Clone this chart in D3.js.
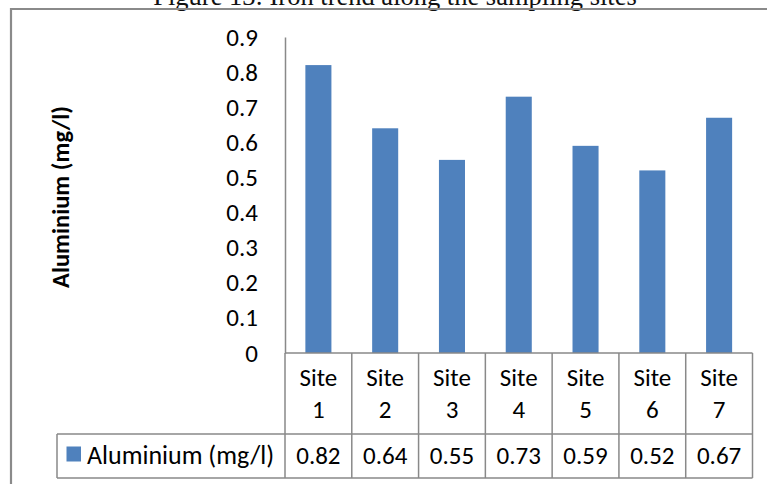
<!DOCTYPE html>
<html>
<head>
<meta charset="utf-8">
<script src="https://cdn.jsdelivr.net/npm/d3@7/dist/d3.min.js"></script>
<style>
  html, body { margin: 0; padding: 0; background: #fff; }
  svg { display: block; }
  .ui { font-family: Carlito, Lato, "Liberation Sans", sans-serif; }
</style>
</head>
<body>
<svg id="chart" width="767" height="484"></svg>
<script>
// Aluminium concentration per sampling site
const sites = ["Site 1", "Site 2", "Site 3", "Site 4", "Site 5", "Site 6", "Site 7"];
const aluminium = [0.82, 0.64, 0.55, 0.73, 0.59, 0.52, 0.67];
const yTicks = [0, 0.1, 0.2, 0.3, 0.4, 0.5, 0.6, 0.7, 0.8, 0.9];
const seriesName = "Aluminium (mg/l)";
const figureTitle = "Figure 13: Iron trend along the sampling sites";

const svg = d3.select("#chart");
const barColor = "#4F81BD";
const lineColor = "#898989";
const fontSize = 25;

// caption above the chart frame (partly cut by the top edge)
svg.append("text")
  .attr("x", 395).attr("y", 5)
  .attr("text-anchor", "middle")
  .attr("font-family", "'Liberation Serif', 'DejaVu Serif', serif")
  .attr("font-size", 26.5)
  .attr("fill", "#111")
  .text(figureTitle);

// chart frame (runs off the right and bottom edges)
svg.append("path")
  .attr("d", "M11,500 V9 H780")
  .attr("fill", "none")
  .attr("stroke", "#8a8a8a")
  .attr("stroke-width", 2.2);

const plot = { left: 285, right: 752.5, top: 37, bottom: 353 };

const x = d3.scaleBand().domain(sites).range([plot.left, plot.right]).padding(0);
const y = d3.scaleLinear().domain([0, 0.9]).range([plot.bottom, plot.top]);

// bars
const barW = x.bandwidth() * 0.39;
svg.append("g").selectAll("rect")
  .data(sites)
  .join("rect")
  .attr("x", d => x(d) + (x.bandwidth() - barW) / 2)
  .attr("y", (d, i) => y(aluminium[i]))
  .attr("width", barW)
  .attr("height", (d, i) => y(0) - y(aluminium[i]))
  .attr("fill", barColor);

// value axis
const yAxis = svg.append("g")
  .attr("transform", `translate(${plot.left},0)`)
  .call(d3.axisLeft(y).tickValues(yTicks).tickSize(0).tickPadding(27).tickFormat(d3.format("~g")));
yAxis.select(".domain").attr("stroke", lineColor).attr("stroke-width", 1.5);
yAxis.selectAll("text")
  .attr("class", "ui")
  .attr("font-size", fontSize)
  .attr("fill", "#000");

// axis title
svg.append("text")
  .attr("class", "ui")
  .attr("transform", "translate(69,197) rotate(-90)")
  .attr("text-anchor", "middle")
  .attr("font-size", 24.5)
  .attr("font-weight", "bold")
  .attr("fill", "#000")
  .text(seriesName);

// data table below the plot
const rowTop = plot.bottom, rowMid = 434, rowBottom = 478, legendLeft = 57;
const table = svg.append("g").attr("stroke", lineColor).attr("stroke-width", 1.5);
table.append("line").attr("x1", plot.left).attr("x2", plot.right).attr("y1", rowTop).attr("y2", rowTop);
table.append("line").attr("x1", legendLeft).attr("x2", plot.right).attr("y1", rowMid).attr("y2", rowMid);
table.append("line").attr("x1", legendLeft).attr("x2", plot.right).attr("y1", rowBottom).attr("y2", rowBottom);
table.append("line").attr("x1", legendLeft).attr("x2", legendLeft).attr("y1", rowMid).attr("y2", rowBottom);
const edges = sites.map(s => x(s)).concat([plot.right]);
table.selectAll("line.col")
  .data(edges)
  .join("line")
  .attr("class", "col")
  .attr("x1", d => d).attr("x2", d => d)
  .attr("y1", rowTop).attr("y2", rowBottom);

// category labels on two lines
const cats = svg.append("g").attr("class", "ui").attr("font-size", fontSize).attr("text-anchor", "middle").attr("fill", "#000");
sites.forEach(s => {
  const parts = s.split(" ");
  const cx = x(s) + x.bandwidth() / 2;
  cats.append("text").attr("x", cx).attr("y", 386).text(parts[0]);
  cats.append("text").attr("x", cx).attr("y", 418).text(parts[1]);
});

// values row
svg.append("g").attr("class", "ui").attr("font-size", fontSize).attr("text-anchor", "middle").attr("fill", "#000")
  .selectAll("text")
  .data(sites)
  .join("text")
  .attr("x", d => x(d) + x.bandwidth() / 2)
  .attr("y", 464)
  .text((d, i) => aluminium[i].toFixed(2));

// legend key in the table
svg.append("rect").attr("x", 66.5).attr("y", 446.5).attr("width", 14.5).attr("height", 15).attr("fill", barColor);
svg.append("text")
  .attr("class", "ui")
  .attr("x", 87).attr("y", 464)
  .attr("font-size", 26)
  .attr("fill", "#000")
  .text(seriesName);
</script>
</body>
</html>
